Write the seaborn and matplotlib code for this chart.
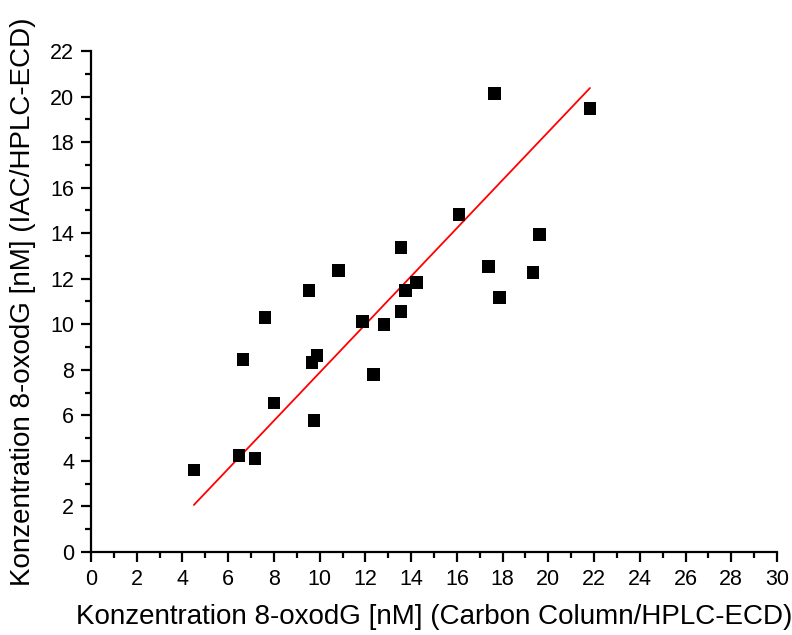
import numpy as np
import pandas as pd
import seaborn as sns
import matplotlib
matplotlib.use("Agg")
import matplotlib.pyplot as plt
from matplotlib.ticker import MultipleLocator

# Data
carbon_column = [4.50, 6.47, 7.17, 6.65, 7.61, 8.00, 9.53, 9.66, 9.88, 9.75, 10.84, 11.89,
                 12.37, 12.81, 13.56, 13.56, 13.77, 14.25, 16.09, 17.40, 17.66, 17.88,
                 19.33, 19.63, 21.82]
iac = [3.60, 4.25, 4.12, 8.46, 10.31, 6.54, 11.49, 8.33, 8.64, 5.79, 12.37, 10.13,
       7.81, 10.00, 13.38, 10.57, 11.49, 11.84, 14.82, 12.54, 20.13, 11.18,
       12.28, 13.95, 19.47]

# fitted line as shown in the reference (slope, intercept)
fit_slope = 1.057
fit_intercept = -2.69

x_label = "Konzentration 8-oxodG [nM] (Carbon Column/HPLC-ECD)"
y_label = "Konzentration 8-oxodG [nM] (IAC/HPLC-ECD)"

df = pd.DataFrame({"x": carbon_column, "y": iac})
fit_x = np.array([min(carbon_column), max(carbon_column)])
fit_df = pd.DataFrame({"x": fit_x, "y": fit_slope * fit_x + fit_intercept})

sns.set_style("ticks")
plt.rcParams["font.family"] = ["Liberation Sans", "DejaVu Sans"]
plt.rcParams["text.color"] = "black"
plt.rcParams["axes.labelcolor"] = "black"

fig = plt.figure(figsize=(7.92, 6.35), dpi=100)
ax = fig.add_axes([0.1149, 0.1307, 0.8662, 0.789])

sns.lineplot(data=fit_df, x="x", y="y", ax=ax, color="red", lw=1.3, zorder=2)
sns.scatterplot(data=df, x="x", y="y", ax=ax, marker="s", s=85, color="black",
                edgecolor="none", zorder=3)

ax.set_xlim(0, 30)
ax.set_ylim(0, 22)
ax.xaxis.set_major_locator(MultipleLocator(2))
ax.xaxis.set_minor_locator(MultipleLocator(1))
ax.yaxis.set_major_locator(MultipleLocator(2))
ax.yaxis.set_minor_locator(MultipleLocator(1))
ax.tick_params(which="major", direction="out", length=7, width=1.6, labelsize=15.5,
               colors="black", pad=5)
ax.tick_params(which="minor", direction="out", length=4, width=1.6, colors="black")
for s in ["left", "bottom"]:
    ax.spines[s].set_linewidth(1.6)
    ax.spines[s].set_color("black")
ax.spines["top"].set_visible(False)
ax.spines["right"].set_visible(False)

ax.set_xlabel(x_label, fontsize=20, labelpad=10)
ax.set_ylabel(y_label, fontsize=20, labelpad=10)

fig.savefig("out.png", dpi=100)
